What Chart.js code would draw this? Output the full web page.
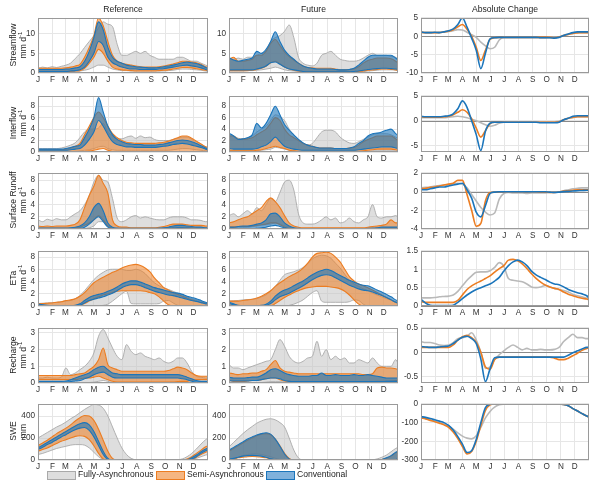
<!DOCTYPE html>
<html>
<head>
<meta charset="utf-8">
<script src="https://cdn.jsdelivr.net/npm/chart.js@4.4.1/dist/chart.umd.min.js"></script>
<style>
  body { margin: 0; background: #fff; font-family: Arial, "Liberation Sans", sans-serif; color: #222; }
  #wrap { position: relative; width: 600px; height: 486px; overflow: hidden; }
  canvas { position: absolute; }
  .ttl { position: absolute; top: 4px; font-size: 8.6px; line-height: 11px; transform: translateX(-50%); white-space: nowrap; }
  .ylab { position: absolute; font-size: 8.6px; line-height: 10px; white-space: nowrap; transform: translate(-50%, -50%) rotate(-90deg); }
  .ylab sup { font-size: 6px; line-height: 0; }
  .bx { position: absolute; top: 471px; width: 27px; height: 7px; border: 1px solid; }
  .lt { position: absolute; top: 469px; font-size: 8.6px; line-height: 11px; white-space: nowrap; }
</style>
</head>
<body>
<div id="wrap"></div>
<script>
// x positions (day of year) shared by every series
const DAYS = [0,10,20,30,40,50,60,70,80,90,100,110,120,130,140,150,160,170,180,190,200,210,220,230,240,250,260,270,280,290,300,310,320,330,340,350,360,365];
const MONTH_DAYS = [0,31,59,90,120,151,181,212,243,273,304,334];
const MONTH_LBL = ['J','F','M','A','M','J','J','A','S','O','N','D'];

// ---------- Streamflow ----------
const sfRefGrayHi = [1.2,1.5,1.3,1.6,1.4,1.7,2.0,2.5,3.7,4.9,6.5,8.0,9.5,11.5,13.0,12.4,11.8,7.3,4.5,4.5,5.0,5.5,5.0,5.5,4.5,4.0,3.5,3.5,3.5,3.5,4.0,4.0,3.5,3.0,3.0,2.5,2.0,1.8];
const sfRefGrayLo = [0.3,0.3,0.3,0.3,0.3,0.3,0.3,0.3,0.4,0.5,0.7,1.0,1.5,2.0,2.0,1.5,1.0,0.8,0.6,0.6,0.5,0.5,0.5,0.5,0.5,0.5,0.5,0.5,0.6,0.7,0.9,1.0,1.0,0.9,0.8,0.7,0.5,0.4];
const sfRefOrgHi = [1.2,1.2,1.2,1.2,1.2,1.2,1.3,1.5,1.8,2.2,4.0,6.5,9.5,14.0,12.0,8.0,4.5,3.0,2.5,2.2,2.0,1.8,1.6,1.5,1.5,1.5,1.6,1.8,2.0,2.3,2.6,3.0,3.0,2.8,2.6,2.2,1.6,1.5];
const sfRefOrgLo = [0.4,0.3,0.3,0.3,0.3,0.3,0.3,0.4,0.5,0.6,1.2,2.5,4.0,6.0,5.0,3.0,1.5,1.0,0.8,0.7,0.6,0.5,0.5,0.5,0.5,0.5,0.6,0.7,0.8,1.0,1.2,1.4,1.4,1.3,1.1,0.9,0.7,0.6];
const sfRefBluHi = [0.9,0.9,0.9,0.9,0.9,0.9,1.0,1.1,1.3,1.6,3.0,5.5,9.0,13.0,11.0,6.5,4.0,3.0,2.5,2.0,1.8,1.6,1.5,1.4,1.3,1.3,1.4,1.6,1.8,2.0,2.3,2.6,2.8,2.6,2.4,2.0,1.4,1.2];
const sfRefBluLo = [0.4,0.4,0.4,0.4,0.4,0.4,0.4,0.5,0.6,0.8,1.5,3.0,5.0,8.0,7.0,4.0,2.6,2.0,1.5,1.2,1.0,1.0,0.9,0.9,0.9,0.9,1.0,1.1,1.3,1.5,1.7,1.9,2.0,1.8,1.6,1.3,0.9,0.8];
const sfFutGrayHi = [3.7,3.5,3.8,3.5,4.0,4.0,4.5,5.0,5.5,8.0,9.0,9.5,10.6,12.2,9.0,4.0,2.5,2.0,1.8,2.5,4.5,5.0,5.5,4.5,3.5,3.2,3.0,3.0,3.2,3.8,4.5,5.0,4.5,4.5,4.5,4.2,4.0,3.5];
const sfFutGrayLo = [0.5,0.5,0.5,0.5,0.6,0.6,0.7,0.8,1.0,1.2,1.5,1.2,0.8,0.6,0.5,0.4,0.3,0.3,0.3,0.3,0.3,0.3,0.3,0.3,0.3,0.3,0.3,0.3,0.3,0.4,0.5,0.6,0.7,0.8,0.8,0.8,0.7,0.6];
const sfFutOrgHi = [3.5,4.0,3.0,3.0,3.2,3.5,4.5,4.5,5.5,7.5,8.5,7.0,5.3,4.2,3.3,2.5,1.8,1.4,1.3,1.2,1.2,1.2,1.2,1.0,0.8,0.8,0.9,1.0,1.6,2.5,3.2,3.5,3.8,3.8,3.8,3.6,3.0,2.6];
const sfFutOrgLo = [0.6,0.6,0.6,0.6,0.6,0.7,0.9,1.2,1.7,2.6,3.0,2.3,1.5,1.0,0.7,0.5,0.4,0.3,0.3,0.3,0.3,0.3,0.3,0.3,0.3,0.3,0.3,0.3,0.4,0.5,0.7,0.8,0.9,1.0,1.0,0.9,0.8,0.7];
const sfFutBluHi = [3.9,3.3,3.0,3.2,3.5,3.8,5.5,5.0,6.0,8.0,10.5,8.0,5.8,4.5,3.5,2.5,1.8,1.4,1.2,1.0,1.0,1.0,1.0,0.9,0.8,0.8,0.9,1.2,2.0,3.0,4.0,4.5,4.5,4.5,4.5,4.5,3.8,3.3];
const sfFutBluLo = [0.8,0.8,0.8,0.8,0.8,0.8,1.0,1.3,1.8,2.6,2.8,2.2,1.5,1.0,0.8,0.6,0.4,0.3,0.3,0.3,0.3,0.3,0.3,0.3,0.3,0.3,0.3,0.4,0.5,0.7,0.9,1.0,1.1,1.2,1.2,1.1,1.0,0.9];
const sfChgGray = [1.0,1.0,1.0,1.0,1.1,1.2,1.3,1.5,1.8,1.7,1.1,0.4,-0.3,-1.6,-2.6,-3.4,-3.0,-1.0,-0.3,-0.3,-0.3,-0.3,-0.3,-0.3,-0.3,-0.3,-0.4,-0.4,-0.3,-0.3,-0.2,0.3,0.6,0.8,1.0,1.0,1.0,1.0];
const sfChgOrg = [1.1,1.0,1.0,1.0,1.0,1.2,1.4,1.8,2.6,3.2,1.9,0.0,-3.0,-6.6,-3.8,-0.8,-0.4,-0.3,-0.3,-0.3,-0.3,-0.3,-0.3,-0.3,-0.3,-0.3,-0.3,-0.3,-0.3,-0.4,-0.2,0.2,0.5,0.8,0.9,1.0,1.0,1.0];
const sfChgBlu = [1.2,1.0,1.0,1.1,1.0,1.2,1.5,2.0,3.2,5.0,2.5,-0.5,-3.8,-8.8,-4.6,-0.7,-0.4,-0.3,-0.3,-0.3,-0.3,-0.3,-0.3,-0.3,-0.3,-0.3,-0.4,-0.4,-0.4,-0.5,-0.3,0.2,0.6,1.0,1.2,1.2,1.2,1.2];

// ---------- Interflow ----------
const ifRefGrayHi = [0.6,0.6,0.6,0.6,0.6,0.7,0.9,1.2,1.6,2.5,3.5,4.0,4.0,4.2,5.0,3.5,2.8,2.4,2.3,2.6,2.8,2.4,2.8,2.5,2.6,2.2,2.0,2.0,2.0,2.2,2.4,2.6,2.6,2.2,1.8,1.4,0.9,0.7];
const ifRefGrayLo = [0.1,0.1,0.1,0.1,0.1,0.1,0.1,0.1,0.1,0.2,0.3,0.4,0.6,0.9,1.0,0.6,0.4,0.3,0.3,0.3,0.3,0.3,0.3,0.3,0.3,0.3,0.3,0.3,0.3,0.4,0.5,0.6,0.6,0.5,0.4,0.3,0.2,0.2];
const ifRefOrgHi = [0.4,0.4,0.4,0.4,0.4,0.4,0.5,0.7,1.0,1.5,3.0,4.5,6.0,7.0,6.0,4.5,3.2,2.5,2.0,1.7,1.6,1.5,1.5,1.5,1.5,1.5,1.6,1.7,1.9,2.2,2.5,2.8,2.8,2.4,1.9,1.4,0.9,0.8];
const ifRefOrgLo = [0.1,0.1,0.1,0.1,0.1,0.1,0.1,0.1,0.1,0.1,0.1,0.2,0.3,0.5,0.6,0.3,0.1,0.1,0.1,0.1,0.1,0.1,0.1,0.1,0.1,0.1,0.1,0.1,0.1,0.1,0.1,0.1,0.1,0.1,0.1,0.1,0.1,0.1];
const ifRefBluHi = [0.5,0.5,0.5,0.5,0.5,0.5,0.6,0.8,1.0,1.2,2.5,4.0,6.0,9.5,7.0,4.5,3.0,2.2,1.8,1.5,1.4,1.3,1.3,1.2,1.2,1.2,1.3,1.4,1.6,1.8,2.0,2.1,2.0,1.8,1.5,1.1,0.7,0.5];
const ifRefBluLo = [0.3,0.3,0.3,0.3,0.3,0.3,0.3,0.4,0.5,0.6,1.2,2.2,3.5,5.5,4.5,3.0,1.8,1.3,1.1,0.9,0.9,0.8,0.8,0.8,0.8,0.8,0.9,1.0,1.1,1.3,1.4,1.5,1.4,1.2,1.0,0.8,0.5,0.4];
const ifFutGrayHi = [3.0,2.8,2.4,2.3,2.5,2.8,3.5,4.0,4.5,5.5,6.5,6.2,5.5,4.0,3.0,2.2,1.6,1.2,1.5,2.5,3.5,3.8,3.8,3.5,2.6,2.0,1.6,1.5,1.8,2.2,2.6,3.0,3.2,3.2,3.2,3.0,2.6,2.4];
const ifFutGrayLo = [0.2,0.2,0.2,0.2,0.2,0.2,0.2,0.3,0.4,0.5,0.8,0.7,0.5,0.3,0.2,0.1,0.1,0.1,0.1,0.1,0.1,0.1,0.1,0.1,0.1,0.1,0.1,0.1,0.1,0.1,0.1,0.2,0.2,0.2,0.2,0.2,0.2,0.2];
const ifFutOrgHi = [2.8,2.8,2.2,2.2,2.3,2.5,3.0,3.5,4.0,5.0,6.0,5.5,4.0,3.0,2.5,2.0,1.5,1.2,1.0,0.8,0.7,0.7,0.7,0.6,0.6,0.6,0.7,0.8,1.2,1.8,2.2,2.5,2.8,2.8,2.8,2.8,2.3,2.0];
const ifFutOrgLo = [0.2,0.2,0.2,0.2,0.2,0.2,0.3,0.4,0.6,0.8,1.0,0.8,0.6,0.3,0.2,0.1,0.1,0.1,0.1,0.1,0.1,0.1,0.1,0.1,0.1,0.1,0.1,0.1,0.1,0.2,0.3,0.4,0.5,0.5,0.5,0.5,0.4,0.3];
const ifFutBluHi = [3.3,2.8,2.2,2.3,2.5,3.0,5.0,4.2,5.0,6.5,8.0,6.5,4.8,3.8,3.0,2.2,1.6,1.2,1.0,0.8,0.7,0.7,0.7,0.6,0.6,0.6,0.7,0.9,1.5,2.0,2.8,3.2,3.3,3.5,3.8,4.0,3.2,2.9];
const ifFutBluLo = [0.6,0.5,0.5,0.5,0.5,0.5,0.6,0.9,1.2,1.8,2.6,1.8,1.0,0.7,0.5,0.4,0.3,0.3,0.3,0.3,0.3,0.3,0.3,0.3,0.3,0.3,0.3,0.3,0.4,0.5,0.6,0.7,0.8,0.9,0.9,0.9,0.7,0.6];
const ifChgGray = [0.6,0.6,0.6,0.6,0.6,0.6,0.7,0.8,0.9,0.8,0.6,0.3,0.0,-0.4,-0.8,-1.1,-0.9,-0.5,-0.3,-0.2,-0.2,-0.2,-0.2,-0.2,-0.2,-0.2,-0.2,-0.2,-0.2,-0.2,-0.1,0.2,0.5,0.6,0.8,0.8,0.8,0.8];
const ifChgOrg = [0.8,0.7,0.7,0.7,0.7,0.8,0.9,1.2,1.7,2.2,1.7,0.4,-1.5,-3.3,-2.0,-0.6,-0.3,-0.3,-0.3,-0.3,-0.3,-0.3,-0.3,-0.3,-0.3,-0.3,-0.3,-0.3,-0.3,-0.3,-0.2,0.2,0.5,0.7,0.8,0.8,0.8,0.8];
const ifChgBlu = [0.9,0.8,0.8,0.8,0.8,0.9,1.0,1.4,2.4,4.0,2.7,0.0,-2.8,-6.0,-2.1,-0.5,-0.3,-0.3,-0.3,-0.3,-0.3,-0.3,-0.3,-0.3,-0.3,-0.3,-0.4,-0.4,-0.4,-0.4,-0.3,0.2,0.5,0.9,1.0,1.0,1.0,1.0];

// ---------- Surface runoff ----------
const srRefGrayHi = [1.5,1.2,1.6,1.4,1.7,1.5,1.5,2.0,2.5,3.0,4.0,5.5,7.7,8.8,8.0,7.7,5.0,1.8,1.2,1.5,2.0,2.2,1.8,2.0,1.8,1.6,1.5,1.5,1.8,2.0,2.0,2.0,1.8,1.5,1.5,1.4,1.2,1.2];
const srRefGrayLo = [0.02,0.02,0.02,0.02,0.02,0.02,0.02,0.02,0.02,0.02,0.05,0.2,0.5,1.2,1.2,0.5,0.05,0.02,0.02,0.02,0.02,0.02,0.02,0.02,0.02,0.02,0.02,0.02,0.02,0.02,0.02,0.02,0.02,0.02,0.02,0.02,0.02,0.02];
const srRefOrgHi = [0.5,0.4,0.5,0.4,0.5,0.5,0.5,0.6,0.8,1.5,3.5,5.5,7.0,8.8,7.5,5.9,1.5,0.5,0.3,0.3,0.2,0.2,0.2,0.2,0.2,0.2,0.3,0.4,0.6,0.8,0.8,0.8,0.7,0.6,0.6,0.6,0.5,0.5];
const srRefOrgLo = [0.1,0.1,0.1,0.1,0.1,0.1,0.1,0.1,0.2,0.3,0.6,1.0,1.5,2.2,1.5,0.5,0.1,0.05,0.05,0.05,0.05,0.05,0.05,0.05,0.05,0.05,0.05,0.1,0.1,0.15,0.2,0.2,0.2,0.2,0.15,0.1,0.1,0.1];
const srRefBluHi = [0.15,0.15,0.15,0.15,0.15,0.15,0.15,0.2,0.3,0.5,1.0,2.0,3.5,4.2,3.0,1.0,0.3,0.15,0.1,0.1,0.1,0.1,0.1,0.1,0.1,0.1,0.15,0.2,0.3,0.5,0.6,0.6,0.5,0.4,0.3,0.3,0.2,0.2];
const srRefBluLo = [0.02,0.02,0.02,0.02,0.02,0.02,0.02,0.02,0.05,0.1,0.3,0.8,1.5,2.0,1.2,0.3,0.05,0.02,0.02,0.02,0.02,0.02,0.02,0.02,0.02,0.02,0.02,0.05,0.1,0.15,0.2,0.2,0.15,0.1,0.05,0.02,0.02,0.02];
const srFutGrayHi = [2.2,2.5,2.0,2.5,3.0,2.5,3.5,3.0,4.0,5.0,4.5,6.0,7.7,8.0,6.4,2.5,1.0,0.8,0.8,1.0,1.5,2.0,1.5,1.8,1.0,1.2,1.8,1.2,1.0,1.5,2.0,4.0,2.0,1.8,2.0,2.0,2.2,2.0];
const srFutGrayLo = [0.3,0.3,0.3,0.3,0.3,0.4,0.5,0.6,0.7,0.8,1.0,0.8,0.5,0.3,0.1,0.05,0.05,0.05,0.05,0.05,0.05,0.05,0.05,0.05,0.05,0.05,0.05,0.05,0.05,0.05,0.05,0.05,0.05,0.05,0.1,0.15,0.2,0.2];
const srFutOrgHi = [1.0,1.2,1.5,1.8,2.0,2.5,3.0,3.5,4.5,5.1,4.5,3.5,2.2,1.0,0.5,0.3,0.2,0.2,0.2,0.2,0.2,0.2,0.2,0.2,0.2,0.2,0.2,0.2,0.2,0.2,0.3,0.4,0.5,0.6,0.8,1.5,1.0,1.0];
const srFutOrgLo = [0.3,0.3,0.4,0.4,0.4,0.5,0.6,0.7,0.8,1.0,1.0,0.7,0.3,0.1,0.05,0.02,0.02,0.02,0.02,0.02,0.02,0.02,0.02,0.02,0.02,0.02,0.02,0.02,0.02,0.02,0.02,0.02,0.1,0.1,0.15,0.2,0.2,0.2];
const srFutBluHi = [0.3,0.3,0.4,0.5,0.5,0.6,0.8,1.0,1.5,2.5,2.6,2.0,1.0,0.5,0.2,0.1,0.05,0.05,0.05,0.05,0.05,0.05,0.05,0.05,0.05,0.05,0.05,0.05,0.05,0.05,0.1,0.15,0.2,0.3,0.3,0.3,0.3,0.3];
const srFutBluLo = [0.02,0.02,0.02,0.03,0.05,0.05,0.1,0.2,0.3,0.5,0.6,0.4,0.2,0.05,0.02,0.02,0.02,0.02,0.02,0.02,0.02,0.02,0.02,0.02,0.02,0.02,0.02,0.02,0.02,0.02,0.02,0.02,0.02,0.02,0.02,0.02,0.02,0.02];
const srChgGray = [0.4,0.45,0.5,0.6,0.65,0.7,0.75,0.85,0.9,0.8,0.4,-0.3,-1.0,-1.7,-2.2,-2.5,-2.3,-0.8,-0.2,-0.1,-0.15,-0.15,-0.15,-0.2,-0.15,-0.15,-0.15,-0.15,-0.1,-0.1,-0.05,0.1,0.2,0.3,0.35,0.4,0.4,0.4];
const srChgOrg = [0.3,0.35,0.45,0.5,0.6,0.7,0.8,0.9,1.2,1.2,-0.3,-2.0,-3.7,-3.4,-1.0,-0.1,-0.05,-0.02,-0.02,-0.02,-0.02,-0.02,-0.02,-0.02,-0.02,-0.02,-0.05,-0.05,-0.08,-0.08,-0.05,0.05,0.1,0.15,0.2,0.2,0.2,0.2];
const srChgBlu = [0.2,0.2,0.3,0.4,0.5,0.5,0.6,0.7,0.8,0.9,0.2,-0.7,-2.2,-2.7,-1.5,-0.2,-0.05,-0.02,-0.02,-0.02,-0.02,-0.02,-0.02,-0.02,-0.02,-0.02,-0.02,-0.02,-0.05,-0.08,-0.05,0.0,0.03,0.06,0.1,0.12,0.15,0.15];

// ---------- ETa ----------
const etRefGrayHi = [0.4,0.45,0.5,0.55,0.6,0.7,0.8,0.9,1.2,1.7,2.5,3.4,4.3,5.0,5.5,5.9,6.0,6.0,6.0,5.8,5.8,6.0,5.8,5.3,4.5,3.8,3.3,3.0,2.7,2.4,2.1,1.8,1.5,1.2,1.0,0.8,0.5,0.4];
const etRefGrayLo = [0,0,0,0,0,0,0,0,0,0,0,0,0,0.05,0.1,0.3,0.8,1.4,2.0,2.4,0.4,0.35,0.35,0.35,0.35,0.35,0.4,0.8,0.9,0.5,0.1,0,0,0,0,0,0,0];
const etRefOrgHi = [0.4,0.4,0.45,0.5,0.6,0.7,0.9,1.0,1.2,1.6,2.2,3.0,3.8,4.3,4.7,5.1,5.5,5.8,6.2,6.5,6.7,6.8,6.6,6.2,5.6,4.6,3.8,3.0,2.6,2.2,1.9,1.6,1.3,1.0,0.8,0.6,0.45,0.4];
const etRefOrgLo = [0,0,0,0,0,0,0,0,0,0.1,0.4,0.8,1.2,1.5,1.8,2.0,2.2,2.4,2.5,2.5,2.5,2.5,2.5,2.4,2.2,2.0,1.5,0.8,0.2,0,0,0,0,0,0,0,0,0];
const etRefBluHi = [0.35,0.2,0.1,0.05,0.05,0.05,0.05,0.05,0.1,0.35,0.9,1.4,1.7,1.9,2.1,2.4,2.7,3.1,3.6,3.9,4.1,4.1,3.9,3.6,3.3,3.0,2.8,2.6,2.4,2.2,2.1,1.9,1.6,1.4,1.2,0.9,0.6,0.45];
const etRefBluLo = [0.25,0.1,0.02,0,0,0,0,0,0.02,0.1,0.5,0.9,1.1,1.3,1.5,1.8,2.1,2.5,3.0,3.3,3.5,3.5,3.3,3.0,2.7,2.4,2.2,2.0,1.8,1.7,1.5,1.3,1.1,0.9,0.75,0.55,0.35,0.3];
const etFutGrayHi = [0.8,0.85,0.9,1.0,1.05,1.1,1.2,1.5,1.8,2.5,3.2,4.2,5.1,5.4,5.6,5.9,6.3,6.9,7.7,8.1,8.3,8.2,7.8,7.0,6.2,5.2,4.2,3.6,3.2,2.8,2.5,2.1,1.8,1.5,1.2,0.95,0.7,0.6];
const etFutGrayLo = [0,0,0,0,0,0,0,0,0,0,0,0,0,0.1,0.3,0.6,1.0,1.6,2.2,2.5,0.8,0.6,0.6,0.6,0.6,0.6,0.7,1.0,0.9,0.3,0,0,0,0,0,0,0,0];
const etFutOrgHi = [0.8,0.8,0.8,0.9,1.0,1.1,1.3,1.6,2.0,2.5,3.2,3.8,4.3,4.8,5.2,5.6,6.2,7.0,8.0,8.6,8.7,8.8,8.6,8.0,7.2,6.0,4.8,4.1,3.6,3.3,3.0,2.6,2.2,1.8,1.4,1.0,0.6,0.45];
const etFutOrgLo = [0,0,0,0,0,0,0,0,0,0,0.4,0.9,1.4,1.8,2.2,2.5,2.8,3.0,3.1,3.2,3.2,3.2,3.1,3.0,2.8,2.4,1.8,1.0,0.3,0,0,0,0,0,0,0,0,0];
const etFutBluHi = [0.6,0.35,0.1,0.05,0.05,0.05,0.05,0.1,0.3,0.8,1.6,2.2,2.6,2.9,3.3,3.7,4.1,4.6,5.1,5.5,5.8,6.0,5.8,5.4,5.0,4.6,4.2,3.9,3.6,3.4,3.3,3.0,2.6,2.3,1.9,1.5,1.0,0.8];
const etFutBluLo = [0.4,0.2,0.05,0,0,0,0,0.02,0.1,0.4,1.0,1.5,1.8,2.1,2.5,2.9,3.3,3.8,4.3,4.7,5.0,5.1,5.0,4.6,4.2,3.8,3.4,3.1,2.8,2.6,2.5,2.3,2.0,1.7,1.4,1.0,0.6,0.45];
const etChgGray = [0.22,0.22,0.22,0.23,0.25,0.26,0.27,0.3,0.4,0.55,0.7,0.82,0.92,0.93,0.93,0.96,1.05,1.18,1.08,0.75,0.7,0.68,0.66,0.6,0.52,0.5,0.52,0.56,0.52,0.48,0.45,0.42,0.38,0.32,0.28,0.25,0.22,0.2];
const etChgOrg = [0.12,0.1,0.1,0.1,0.1,0.1,0.1,0.1,0.15,0.3,0.45,0.55,0.62,0.68,0.75,0.82,0.92,1.02,1.1,1.25,1.27,1.23,1.15,1.02,0.88,0.75,0.65,0.57,0.52,0.48,0.45,0.38,0.32,0.28,0.24,0.21,0.19,0.17];
const etChgBlu = [0.18,0.08,0.02,0.01,0.01,0.01,0.01,0.02,0.1,0.2,0.3,0.38,0.45,0.5,0.55,0.6,0.68,0.78,0.95,1.1,1.2,1.25,1.2,1.1,0.95,0.85,0.78,0.72,0.65,0.6,0.58,0.52,0.45,0.4,0.36,0.33,0.28,0.22];

// ---------- Recharge ----------
const rcRefGrayHi = [0.3,0.3,0.35,0.3,0.3,0.35,0.9,0.5,0.6,0.8,1.0,1.3,1.8,2.8,3.2,2.7,2.1,1.6,1.4,2.3,1.9,1.7,1.8,1.6,1.5,1.4,1.5,1.3,1.2,1.3,1.5,1.5,1.2,0.7,0.4,0.35,0.3,0.3];
const rcRefGrayLo = [0.03,0.03,0.03,0.03,0.03,0.03,0.03,0.03,0.03,0.03,0.03,0.03,0.05,0.1,0.15,0.1,0.03,0.03,0.03,0.03,0.03,0.03,0.03,0.03,0.03,0.03,0.03,0.03,0.03,0.03,0.03,0.03,0.03,0.03,0.03,0.03,0.03,0.03];
const rcRefOrgHi = [0.45,0.45,0.45,0.45,0.45,0.45,0.45,0.45,0.5,0.55,0.6,0.8,1.0,1.4,2.1,1.1,0.9,0.8,0.7,0.7,0.7,0.7,0.7,0.7,0.7,0.7,0.7,0.7,0.75,0.85,0.95,0.9,0.8,0.6,0.45,0.4,0.4,0.4];
const rcRefOrgLo = [0.2,0.2,0.2,0.2,0.2,0.2,0.2,0.2,0.2,0.25,0.3,0.3,0.35,0.4,0.3,0.2,0.1,0.05,0.05,0.05,0.05,0.05,0.05,0.05,0.05,0.05,0.05,0.05,0.05,0.05,0.08,0.1,0.1,0.15,0.2,0.2,0.2,0.2];
const rcRefBluHi = [0.1,0.1,0.1,0.1,0.1,0.1,0.12,0.2,0.3,0.4,0.5,0.6,0.8,0.95,1.0,0.8,0.6,0.55,0.5,0.5,0.5,0.5,0.5,0.5,0.5,0.5,0.5,0.5,0.5,0.5,0.5,0.45,0.35,0.25,0.15,0.1,0.1,0.1];
const rcRefBluLo = [0.05,0.05,0.05,0.05,0.05,0.05,0.05,0.08,0.12,0.15,0.25,0.35,0.5,0.6,0.65,0.5,0.35,0.3,0.3,0.3,0.3,0.3,0.3,0.3,0.3,0.3,0.3,0.3,0.3,0.3,0.3,0.25,0.2,0.1,0.05,0.05,0.05,0.05];
const rcFutGrayHi = [1.1,0.9,0.9,0.8,0.9,1.0,1.1,1.2,1.3,1.4,2.0,2.6,2.2,1.6,1.3,1.2,1.3,1.5,1.6,2.5,1.6,2.0,1.4,1.6,1.4,1.5,1.2,1.2,1.4,1.3,1.2,1.5,1.2,1.0,1.0,1.0,1.4,1.2];
const rcFutGrayLo = [0.03,0.03,0.03,0.03,0.03,0.03,0.03,0.03,0.05,0.08,0.08,0.08,0.05,0.03,0.03,0.03,0.03,0.03,0.03,0.03,0.03,0.03,0.03,0.03,0.03,0.03,0.03,0.03,0.03,0.03,0.03,0.03,0.03,0.03,0.03,0.03,0.03,0.03];
const rcFutOrgHi = [0.6,0.55,0.5,0.55,0.55,0.6,0.6,0.7,0.8,1.1,1.35,0.9,0.7,0.65,0.6,0.55,0.55,0.55,0.55,0.55,0.55,0.55,0.55,0.55,0.55,0.55,0.55,0.55,0.55,0.5,0.5,0.55,0.9,0.95,0.9,0.9,0.85,0.8];
const rcFutOrgLo = [0.15,0.1,0.1,0.1,0.12,0.15,0.15,0.2,0.25,0.3,0.3,0.2,0.12,0.1,0.08,0.08,0.08,0.08,0.08,0.08,0.08,0.08,0.08,0.08,0.08,0.08,0.08,0.08,0.08,0.08,0.08,0.08,0.1,0.1,0.1,0.12,0.15,0.15];
const rcFutBluHi = [0.35,0.3,0.3,0.3,0.32,0.35,0.35,0.45,0.6,0.8,0.85,0.75,0.6,0.5,0.45,0.4,0.4,0.4,0.45,0.45,0.6,0.45,0.45,0.5,0.45,0.45,0.45,0.5,0.45,0.45,0.5,0.45,0.4,0.35,0.3,0.3,0.3,0.3];
const rcFutBluLo = [0.15,0.12,0.12,0.12,0.12,0.15,0.15,0.2,0.25,0.3,0.3,0.25,0.15,0.1,0.08,0.08,0.08,0.08,0.08,0.08,0.08,0.08,0.08,0.08,0.08,0.08,0.08,0.08,0.08,0.08,0.08,0.08,0.08,0.08,0.1,0.1,0.1,0.1];
const rcChgGray = [0.22,0.2,0.2,0.18,0.15,0.14,0.15,0.2,0.28,0.3,0.33,0.4,0.25,0.0,-0.33,-0.3,-0.15,-0.05,0.03,0.1,0.15,0.1,0.05,0.08,0.05,0.05,0.06,0.05,0.05,0.06,0.1,0.22,0.3,0.37,0.3,0.3,0.28,0.28];
const rcChgOrg = [0.1,0.1,0.1,0.1,0.1,0.1,0.1,0.15,0.25,0.32,0.35,0.3,0.2,0.0,-0.3,-0.35,-0.15,-0.1,-0.1,-0.1,-0.1,-0.1,-0.1,-0.1,-0.1,-0.1,-0.1,-0.1,-0.1,-0.12,-0.15,-0.15,-0.12,-0.07,-0.02,0.04,0.08,0.1];
const rcChgBlu = [0.12,0.11,0.1,0.1,0.11,0.12,0.13,0.18,0.25,0.31,0.33,0.28,0.18,-0.14,-0.6,-0.34,-0.11,-0.1,-0.1,-0.1,-0.1,-0.1,-0.1,-0.1,-0.1,-0.1,-0.1,-0.1,-0.1,-0.1,-0.1,-0.1,-0.06,-0.01,0.03,0.07,0.1,0.1];

// ---------- SWE ----------
const swRefGrayHi = [200,225,250,275,300,320,345,375,400,430,460,485,505,500,470,400,300,200,110,50,15,2,0,0,0,0,0,0,0,0,2,10,30,60,100,145,185,200];
const swRefGrayLo = [50,60,75,90,105,115,125,135,140,140,135,110,70,30,5,0,0,0,0,0,0,0,0,0,0,0,0,0,0,0,0,0,0,5,15,30,45,50];
const swRefOrgHi = [130,155,180,210,240,265,290,320,355,385,405,400,360,280,180,80,15,0,0,0,0,0,0,0,0,0,0,0,0,0,0,0,10,30,60,90,120,130];
const swRefOrgLo = [80,95,110,130,150,170,185,200,215,220,215,185,130,60,10,0,0,0,0,0,0,0,0,0,0,0,0,0,0,0,0,0,0,5,25,50,70,80];
const swRefBluHi = [110,135,160,185,210,235,260,285,310,330,340,320,260,170,80,15,0,0,0,0,0,0,0,0,0,0,0,0,0,0,0,0,2,20,45,75,100,110];
const swRefBluLo = [95,115,140,160,185,210,230,255,275,290,295,270,210,130,50,5,0,0,0,0,0,0,0,0,0,0,0,0,0,0,0,0,0,10,30,60,85,95];
const swFutGrayHi = [120,160,200,240,275,305,335,355,370,375,365,340,300,200,90,20,0,0,0,0,0,0,0,0,0,0,0,0,0,0,0,2,10,25,45,75,105,115];
const swFutGrayLo = [0,10,25,40,50,55,55,50,40,30,15,5,0,0,0,0,0,0,0,0,0,0,0,0,0,0,0,0,0,0,0,0,0,0,0,0,0,0];
const swFutOrgHi = [80,105,130,155,180,200,220,235,240,230,190,130,60,15,0,0,0,0,0,0,0,0,0,0,0,0,0,0,0,0,0,0,0,5,15,35,65,75];
const swFutOrgLo = [5,10,20,25,30,32,30,25,20,10,2,0,0,0,0,0,0,0,0,0,0,0,0,0,0,0,0,0,0,0,0,0,0,0,0,0,2,5];
const swFutBluHi = [90,115,140,165,190,210,228,240,248,235,190,125,55,10,0,0,0,0,0,0,0,0,0,0,0,0,0,0,0,0,0,0,0,5,20,40,70,80];
const swFutBluLo = [10,15,25,35,40,42,40,35,25,12,3,0,0,0,0,0,0,0,0,0,0,0,0,0,0,0,0,0,0,0,0,0,0,0,0,2,5,10];
const swChgGray = [-72,-78,-85,-92,-100,-108,-118,-135,-155,-172,-183,-187,-170,-125,-75,-40,-17,-5,-1,0,0,0,0,0,0,0,0,0,0,0,0,-3,-10,-25,-38,-52,-65,-70];
const swChgOrg = [-75,-80,-88,-95,-103,-112,-125,-150,-185,-228,-268,-255,-200,-115,-35,-5,0,0,0,0,0,0,0,0,0,0,0,0,0,0,0,-3,-10,-25,-38,-52,-65,-70];
const swChgBlu = [-68,-72,-78,-85,-92,-100,-115,-140,-175,-215,-260,-250,-190,-100,-20,-2,0,0,0,0,0,0,0,0,0,0,0,0,0,0,0,-3,-10,-25,-38,-52,-65,-70];

// axis limits per row
const Y_MAX = [14, 9.8, 9.2, 9, 3.3, 510];
const Y_TICKS = [[0,5,10],[0,2,4,6,8],[0,2,4,6,8],[0,2,4,6,8],[0,1,2,3],[0,200,400]];
const C_MIN = [-10, -6.3, -4, 0, -0.63, -300];
const C_MAX = [5, 5, 2, 1.5, 0.5, 0];
const C_TICKS = [[-10,-5,0,5],[-5,0,5],[-4,-2,0,2],[0,0.5,1,1.5],[-0.5,0,0.5],[-300,-200,-100,0]];

const COL_TITLES = ['Reference', 'Future', 'Absolute Change'];
const ROW_LABELS = [['Streamflow','mm d<sup>-1</sup>'],['Interflow','mm d<sup>-1</sup>'],['Surface Runoff','mm d<sup>-1</sup>'],['ETa','mm d<sup>-1</sup>'],['Recharge','mm d<sup>-1</sup>'],['SWE','mm']];

const REF = [
  [sfRefGrayLo,sfRefGrayHi,sfRefOrgLo,sfRefOrgHi,sfRefBluLo,sfRefBluHi],
  [ifRefGrayLo,ifRefGrayHi,ifRefOrgLo,ifRefOrgHi,ifRefBluLo,ifRefBluHi],
  [srRefGrayLo,srRefGrayHi,srRefOrgLo,srRefOrgHi,srRefBluLo,srRefBluHi],
  [etRefGrayLo,etRefGrayHi,etRefOrgLo,etRefOrgHi,etRefBluLo,etRefBluHi],
  [rcRefGrayLo,rcRefGrayHi,rcRefOrgLo,rcRefOrgHi,rcRefBluLo,rcRefBluHi],
  [swRefGrayLo,swRefGrayHi,swRefOrgLo,swRefOrgHi,swRefBluLo,swRefBluHi]
];
const FUT = [
  [sfFutGrayLo,sfFutGrayHi,sfFutOrgLo,sfFutOrgHi,sfFutBluLo,sfFutBluHi],
  [ifFutGrayLo,ifFutGrayHi,ifFutOrgLo,ifFutOrgHi,ifFutBluLo,ifFutBluHi],
  [srFutGrayLo,srFutGrayHi,srFutOrgLo,srFutOrgHi,srFutBluLo,srFutBluHi],
  [etFutGrayLo,etFutGrayHi,etFutOrgLo,etFutOrgHi,etFutBluLo,etFutBluHi],
  [rcFutGrayLo,rcFutGrayHi,rcFutOrgLo,rcFutOrgHi,rcFutBluLo,rcFutBluHi],
  [swFutGrayLo,swFutGrayHi,swFutOrgLo,swFutOrgHi,swFutBluLo,swFutBluHi]
];
const CHG = [
  [sfChgGray,sfChgOrg,sfChgBlu],
  [ifChgGray,ifChgOrg,ifChgBlu],
  [srChgGray,srChgOrg,srChgBlu],
  [etChgGray,etChgOrg,etChgBlu],
  [rcChgGray,rcChgOrg,rcChgBlu],
  [swChgGray,swChgOrg,swChgBlu]
];

// layout of the plot areas on the page
const COL_L = [38, 229, 421], COL_W = [170, 169, 168];
const ROW_T = [16, 94, 171, 249, 326, 402], ROW_H = [57, 58, 58, 57, 57, 58];

const LINE = ['#a9a9a9', '#ec7d22', '#1b75bb'];
const FILL = ['rgba(195,195,195,0.55)', 'rgba(236,125,34,0.55)', 'rgba(27,117,187,0.6)'];
const CHG_LINE = ['#b9b9b9', '#ec7d22', '#1b75bb'];

const wrap = document.getElementById('wrap');
const FONT = { family: 'Arial, "Liberation Sans", sans-serif', size: 8.2 };

function pts(a) { return a.map((v, i) => ({ x: DAYS[i], y: v })); }

const boxPlugin = {
  id: 'box',
  beforeDatasetsDraw(chart, args, opts) {
    if (!opts.zero) return;
    const a = chart.chartArea, ctx = chart.ctx;
    const y = Math.round(chart.scales.y.getPixelForValue(0)) + 0.5;
    ctx.save();
    ctx.strokeStyle = '#8a8a8a';
    ctx.lineWidth = 1;
    ctx.beginPath(); ctx.moveTo(a.left, y); ctx.lineTo(a.right, y); ctx.stroke();
    ctx.restore();
  },
  afterDraw(chart) {
    const a = chart.chartArea, ctx = chart.ctx;
    ctx.save();
    ctx.strokeStyle = '#9a9a9a';
    ctx.lineWidth = 1;
    ctx.strokeRect(Math.round(a.left) + 0.5, Math.round(a.top) + 0.5, Math.round(a.width) - 1, Math.round(a.height) - 1);
    ctx.restore();
  }
};

function makePanel(r, c, datasets, yMin, yMax, yTicks, zero) {
  const padL = 32, padT = 6, padR = 6, padB = 16;
  const cv = document.createElement('canvas');
  cv.width = COL_W[c] + padL + padR;
  cv.height = ROW_H[r] + padT + padB;
  cv.style.left = (COL_L[c] - padL) + 'px';
  cv.style.top = (ROW_T[r] - padT) + 'px';
  wrap.appendChild(cv);
  new Chart(cv, {
    type: 'line',
    data: { datasets },
    options: {
      responsive: false,
      animation: false,
      layout: { padding: { left: 0, top: padT, right: padR, bottom: 0 } },
      plugins: { legend: { display: false }, tooltip: { enabled: false }, box: { zero } },
      elements: { point: { radius: 0 }, line: { tension: 0.3, cubicInterpolationMode: 'monotone' } },
      scales: {
        x: {
          type: 'linear', min: 0, max: 365,
          afterBuildTicks: s => { s.ticks = MONTH_DAYS.map(v => ({ value: v })); },
          afterFit: s => { s.height = padB; },
          ticks: { autoSkip: false, maxRotation: 0, padding: 2, font: FONT, color: '#333',
                   callback: (v, i) => MONTH_LBL[i] },
          grid: { color: '#e6e6e6', drawTicks: false },
          border: { display: false }
        },
        y: {
          min: yMin, max: yMax,
          afterBuildTicks: s => { s.ticks = yTicks.map(v => ({ value: v })); },
          afterFit: s => { s.width = padL; },
          ticks: { padding: 3, font: FONT, color: '#333', callback: v => String(v) },
          grid: { color: '#e6e6e6', drawTicks: false },
          border: { display: false }
        }
      }
    },
    plugins: [boxPlugin]
  });
}

function bandSets(arrs) {
  const out = [];
  for (let k = 0; k < 3; k++) {
    out.push({ data: pts(arrs[2 * k]), borderColor: LINE[k], borderWidth: k ? 1.1 : 0.9, fill: false, order: 3 - k });
    out.push({ data: pts(arrs[2 * k + 1]), borderColor: LINE[k], borderWidth: k ? 1.1 : 0.9, fill: '-1', backgroundColor: FILL[k], order: 3 - k });
  }
  return out;
}

function lineSets(arrs) {
  return arrs.map((a, k) => ({ data: pts(a), borderColor: CHG_LINE[k], borderWidth: 1.6, fill: false, order: 3 - k }));
}

for (let r = 0; r < 6; r++) {
  makePanel(r, 0, bandSets(REF[r]), 0, Y_MAX[r], Y_TICKS[r], false);
  makePanel(r, 1, bandSets(FUT[r]), 0, Y_MAX[r], Y_TICKS[r], false);
  makePanel(r, 2, lineSets(CHG[r]), C_MIN[r], C_MAX[r], C_TICKS[r], true);
}

// column titles
COL_TITLES.forEach((t, c) => {
  const d = document.createElement('div');
  d.className = 'ttl';
  d.style.left = (COL_L[c] + COL_W[c] / 2) + 'px';
  d.textContent = t;
  wrap.appendChild(d);
});

// row labels
ROW_LABELS.forEach((lines, r) => {
  const cy = ROW_T[r] + ROW_H[r] / 2;
  lines.forEach((txt, j) => {
    const d = document.createElement('div');
    d.className = 'ylab';
    d.style.left = (12.5 + j * 10) + 'px';
    d.style.top = cy + 'px';
    d.innerHTML = txt;
    wrap.appendChild(d);
  });
});

// legend
const LEG = [
  { x: 47, text: 'Fully-Asynchronous', bg: '#dedede', bd: '#a9a9a9' },
  { x: 156, text: 'Semi-Asynchronous', bg: '#f5b682', bd: '#ec7d22' },
  { x: 266, text: 'Conventional', bg: '#7fb1dc', bd: '#1b75bb' }
];
LEG.forEach(l => {
  const b = document.createElement('div');
  b.className = 'bx';
  b.style.left = l.x + 'px';
  b.style.background = l.bg;
  b.style.borderColor = l.bd;
  wrap.appendChild(b);
  const t = document.createElement('div');
  t.className = 'lt';
  t.style.left = (l.x + 31) + 'px';
  t.textContent = l.text;
  wrap.appendChild(t);
});
</script>
</body>
</html>
